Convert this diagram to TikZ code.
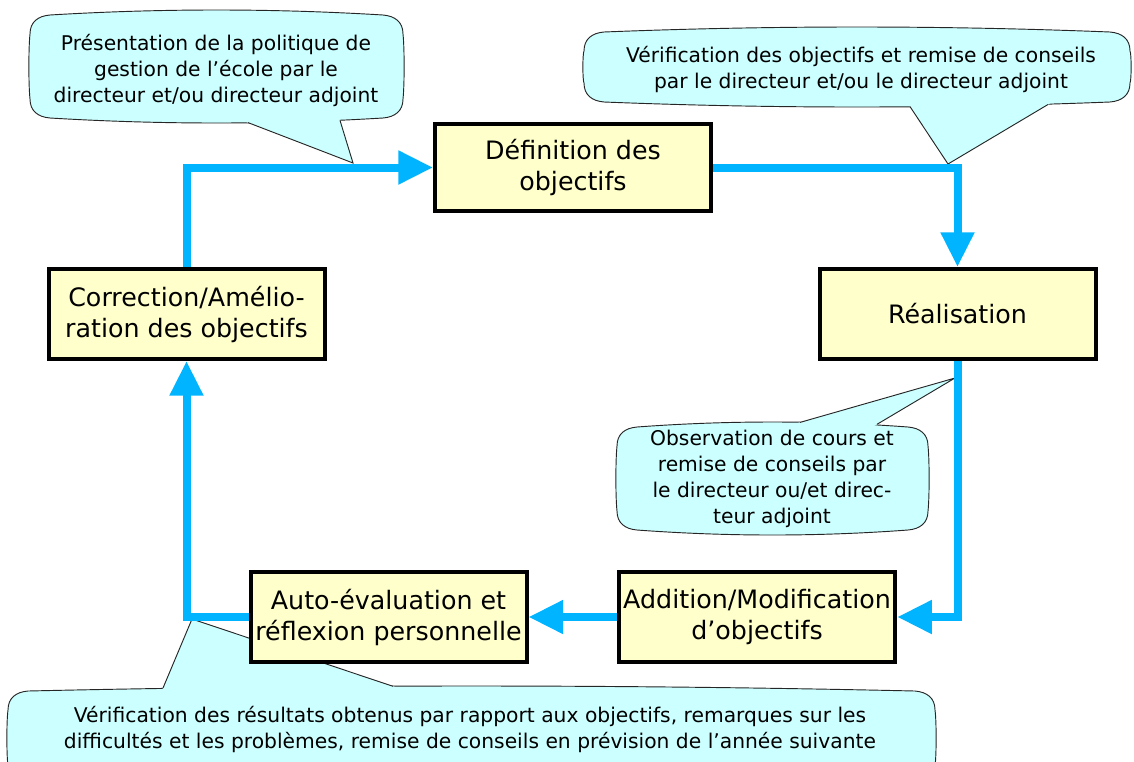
\documentclass[tikz,border=0pt]{standalone}
\usepackage{fontspec}
\setmainfont{DejaVu Sans}
\usetikzlibrary{arrows.meta,calc}
\definecolor{bleu}{RGB}{0,180,255}
\definecolor{jaune}{RGB}{255,255,204}
\definecolor{cyanclair}{RGB}{204,255,255}
\pgfdeclarelayer{background}
\pgfsetlayers{background,main}
\tikzstyle{etape}=[draw, line width=3pt, fill=jaune, minimum width=207pt,
    minimum height=67.5pt, align=center, font=\fontsize{19}{23.25}\selectfont]
\tikzstyle{fleche}=[draw=bleu, line width=6pt, -{Triangle[length=26pt,width=24pt]}]
\tikzstyle{bulle}=[draw=black!85, line width=0.7pt, fill=cyanclair]
\tikzstyle{remarque}=[align=center, font=\fontsize{15.2}{19.5}\selectfont]
% callout body: left, top, right, bottom
\newcommand{\bulle}[4]{%
  \filldraw[bulle] (#1,{#2+24}) .. controls (#1,{#2+12}) and ({#1+8},{#2+6}) .. ({#1+20},{#2+5})
    .. controls ({#1+20+(#3-#1-40)/3},{#2-1.67}) and ({#3-20-(#3-#1-40)/3},{#2-1.67}) .. ({#3-20},{#2+5})
    .. controls ({#3-8},{#2+6}) and (#3,{#2+12}) .. (#3,{#2+24})
    .. controls ({#3+1.5},{#2+(#4-#2)/3}) and ({#3+1.5},{#4-(#4-#2)/3}) .. (#3,{#4-24})
    .. controls (#3,{#4-12}) and ({#3-8},{#4-6}) .. ({#3-20},{#4-5})
    .. controls ({#3-20-(#3-#1-40)/3},{#4+1.67}) and ({#1+20+(#3-#1-40)/3},{#4+1.67}) .. ({#1+20},{#4-5})
    .. controls ({#1+8},{#4-6}) and (#1,{#4-12}) .. (#1,{#4-24})
    .. controls ({#1-1.5},{#4-(#4-#2)/3}) and ({#1-1.5},{#2+(#4-#2)/3}) .. cycle;}
% callout pointer: base point, base point, tip
\newcommand{\pointe}[3]{%
  \fill[cyanclair] ($(#1)!-0.15!(#3)$) -- (#3) -- ($(#2)!-0.15!(#3)$) -- cycle;
  \draw[draw=black!85, line width=0.7pt] (#1) -- (#3) -- (#2);}

\begin{document}
\begin{tikzpicture}[x=0.75pt,y=-0.75pt]
	\useasboundingbox (0,0) rectangle (1134,761);
	% Define the nodes in the picture
	\node (def) [etape, minimum height=65.5pt] at (573,167.5) {Définition des\\objectifs};
	\node (real) [etape] at (957.5,314) {Réalisation};
	\node (corr) [etape] at (186.5,314) {Correction/Amélio-\\ration des objectifs};
	\node (add) [etape] at (757,617) {Addition/Modification\\d’objectifs};
	\node (auto) [etape] at (388.5,617) {Auto-évaluation et\\réflexion personnelle};

	\node (rem_pres) [remarque] at (216,70) {Présentation de la politique de\\gestion de l’école par le\\directeur et/ou directeur adjoint};
	\node (rem_verif) [remarque] at (861,69) {Vérification des objectifs et remise de conseils\\par le directeur et/ou le directeur adjoint};
	\node (rem_obs) [remarque] at (772,479) {Observation de cours et\\remise de conseils par\\le directeur ou/et direc-\\teur adjoint};
	\node (rem_bilan) [remarque] at (470,729.5) {Vérification des résultats obtenus par rapport aux objectifs, remarques sur les\\difficultés et les problèmes, remise de conseils en prévision de l’année suivante};

	\coordinate (tip_pres) at (353,163);
	\coordinate (tip_verif) at (948,164);
	\coordinate (tip_obs) at (955,378);
	\coordinate (tip_bilan) at (192,619);

	% Callouts behind everything
	\begin{pgfonlayer}{background}
		\bulle{30}{10}{403}{123}
		\pointe{248,122.6}{340,120.4}{tip_pres}
		\bulle{584}{27}{1130}{107}
		\pointe{910,106.6}{1048,104.5}{tip_verif}
		\bulle{617}{422}{928}{535}
		\pointe{800,422.4}{877,424.3}{tip_obs}
		\bulle{8}{686}{935}{790}
		\pointe{163,688}{393,686.3}{tip_bilan}
	\end{pgfonlayer}

	% Define the edges in the picture
	\draw [fleche] (corr.north) |- (def.west);
	\draw [fleche] (def.east) -| (real.north);
	\draw [fleche] (real.south) |- (add.east);
	\draw [fleche] (add.west) -- (auto.east);
	\draw [fleche] (auto.west) -| (corr.south);
\end{tikzpicture}
\end{document}
